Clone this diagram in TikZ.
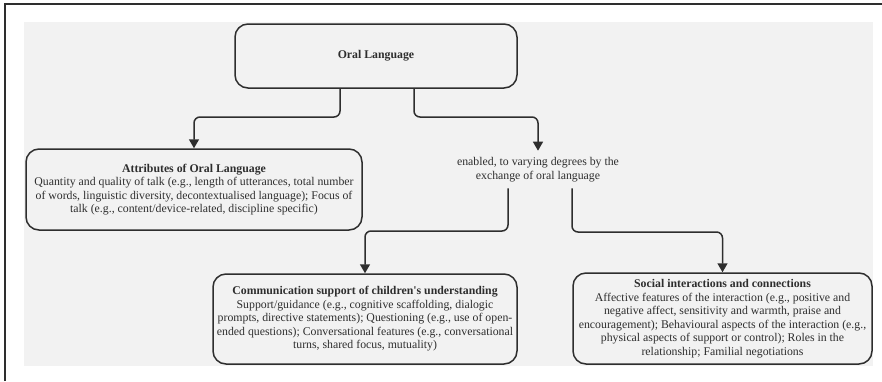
\documentclass[tikz,border=0pt]{standalone}
\usepackage{fontspec}
\setmainfont{Liberation Serif}
\usetikzlibrary{arrows.meta}
\definecolor{bg}{HTML}{F2F2F2}
\definecolor{ink}{HTML}{2E2E2E}
\begin{document}
\begin{tikzpicture}[x=1pt,y=-1pt,
  box/.style={draw=ink, line width=1.5pt, rounded corners=13pt, fill=bg, align=center,
    font=\fontsize{11.8}{13.5}\selectfont, text=ink, inner sep=0pt},
  conn/.style={draw=ink, line width=1.5pt, rounded corners=6pt,
    -{Triangle[width=10pt,length=9pt]}},
  lbl/.style={align=center, font=\fontsize{11.8}{14.5}\selectfont, text=ink,
    inner xsep=2pt, inner ysep=6pt}]
\useasboundingbox (0,0) rectangle (882,381);
\fill[white] (0,0) rectangle (882,381);
\fill[bg] (24,22) rectangle (873,366);
\draw[ink, line width=1.2pt] (5,381) -- (5,4) -- (882,4);

\node[box, minimum width=282pt, minimum height=64pt] (ol) at (376,56) {\textbf{Oral Language}};

\node[box, minimum width=336pt, minimum height=81pt] (attr) at (194,189.5)
 {\textbf{Attributes of Oral Language}\\
  Quantity and quality of talk (e.g., length of utterances, total number\\
  of words, linguistic diversity, decontextualised language); Focus of\\
  talk (e.g., content/device-related, discipline specific)};

\node[lbl] (en) at (538,169.5)
 {enabled, to varying degrees by the\\ exchange of oral language};

\node[box, minimum width=304pt, minimum height=90pt] (comm) at (365,319)
 {\textbf{Communication support of children\textquotesingle s understanding}\\
  Support/guidance (e.g., cognitive scaffolding, dialogic\\
  prompts, directive statements); Questioning (e.g., use of open-\\
  ended questions); Conversational features (e.g., conversational\\
  turns, shared focus, mutuality)};

\node[box, minimum width=299pt, minimum height=91pt] (soc) at (722.5,318.5)
 {\textbf{Social interactions and connections}\\
  Affective features of the interaction (e.g., positive and\\
  negative affect, sensitivity and warmth, praise and\\
  encouragement); Behavioural aspects of the interaction (e.g.,\\
  physical aspects of support or control); Roles in the\\
  relationship; Familial negotiations};

\coordinate (a1) at (340,117);
\coordinate (a2) at (414,117);
\coordinate (b1) at (508,231);
\coordinate (b2) at (572,232);

\draw[conn] (ol.south -| a1) |- (attr.north |- a1) -- (attr.north);
\draw[conn] (ol.south -| a2) |- (en.north |- a2) -- (en.north);
\draw[conn] (en.south -| b1) |- (comm.north |- b1) -- (comm.north);
\draw[conn] (en.south -| b2) |- (soc.north |- b2) -- (soc.north);
\end{tikzpicture}
\end{document}
